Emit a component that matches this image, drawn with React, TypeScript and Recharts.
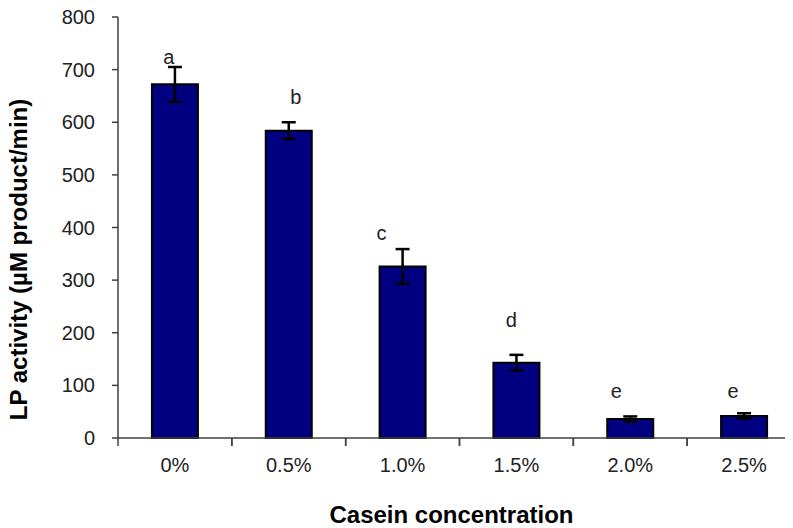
import React from 'react';
import { BarChart, Bar, XAxis, YAxis, ErrorBar, ReferenceDot } from 'recharts';

const categories = ['0%', '0.5%', '1.0%', '1.5%', '2.0%', '2.5%'];
const activity = [672, 584, 326, 143, 36, 42];
const errors = [33, 16, 33, 15, 5, 5];
const letters = ['a', 'b', 'c', 'd', 'e', 'e'];
const letterValues = [725, 648, 390, 225, 89, 89];
const letterDx = [-6, 7, -21, -5, -14, -11];
const yTicks = [0, 100, 200, 300, 400, 500, 600, 700, 800];

const data = categories.map((c, i) => ({ cat: c, activity: activity[i], err: errors[i] }));

const FONT = '"Liberation Sans", Arial, sans-serif';
const AXIS = '#404040';
const X_TICK_SIZE = 6;
const X_TICK_MARGIN = 14;

function CategoryTick(props: any) {
  const { x, y, payload } = props;
  const half = payload && payload.offset ? payload.offset : 0;
  const axisY = y - X_TICK_SIZE - X_TICK_MARGIN;
  return (
    <g>
      <line x1={x - half} x2={x - half} y1={axisY} y2={axisY + 8} stroke={AXIS} strokeWidth={1.5} />
      <line x1={x + half} x2={x + half} y1={axisY} y2={axisY + 8} stroke={AXIS} strokeWidth={1.5} />
      <text
        x={x}
        y={y}
        dy="0.71em"
        textAnchor="middle"
        fontSize={20}
        fill="#222"
        fontFamily={FONT}
      >
        {payload.value}
      </text>
    </g>
  );
}

export default function App() {
  return (
    <div style={{ width: 785, height: 520, overflow: 'hidden' }}>
      <BarChart
        width={800}
        height={520}
        data={data}
        margin={{ top: 9, right: 7, bottom: 0, left: 0 }}
        barCategoryGap="29.8%"
        style={{ fontFamily: FONT }}
      >
        <XAxis
          xAxisId="cat"
          dataKey="cat"
          interval={0}
          tickLine={false}
          axisLine={{ stroke: AXIS, strokeWidth: 1.5 }}
          tick={<CategoryTick />}
          tickSize={X_TICK_SIZE}
          tickMargin={X_TICK_MARGIN}
          height={90}
          label={{
            value: 'Casein concentration',
            position: 'insideBottom',
            offset: 5,
            dx: -8,
            fontSize: 24,
            fontWeight: 'bold',
            fill: '#000',
            fontFamily: FONT,
          }}
        />
        <YAxis
          domain={[0, 800]}
          ticks={yTicks}
          interval={0}
          width={110}
          tickSize={6}
          tickMargin={17}
          axisLine={{ stroke: AXIS, strokeWidth: 1.5 }}
          tickLine={{ stroke: AXIS, strokeWidth: 1.5 }}
          tick={{ fontSize: 20, fill: '#222', fontFamily: FONT }}
          label={{
            value: 'LP activity (µM product/min)',
            angle: -90,
            position: 'insideLeft',
            offset: 10,
            dy: 32,
            style: { textAnchor: 'middle' },
            fontSize: 24,
            fontWeight: 'bold',
            fill: '#000',
            fontFamily: FONT,
          }}
        />
        <Bar
          xAxisId="cat"
          dataKey="activity"
          fill="#000080"
          stroke="#000"
          strokeWidth={2}
          isAnimationActive={false}
        >
          <ErrorBar dataKey="err" direction="y" width={7} stroke="#000" strokeWidth={2.5} />
        </Bar>
        {categories.map((c, i) => (
          <ReferenceDot
            key={c}
            xAxisId="cat"
            x={c}
            y={letterValues[i]}
            r={0}
            fill="none"
            stroke="none"
            label={{
              value: letters[i],
              position: 'center',
              dx: letterDx[i],
              fontSize: 20,
              fill: '#222',
              fontFamily: FONT,
            }}
          />
        ))}
      </BarChart>
    </div>
  );
}
